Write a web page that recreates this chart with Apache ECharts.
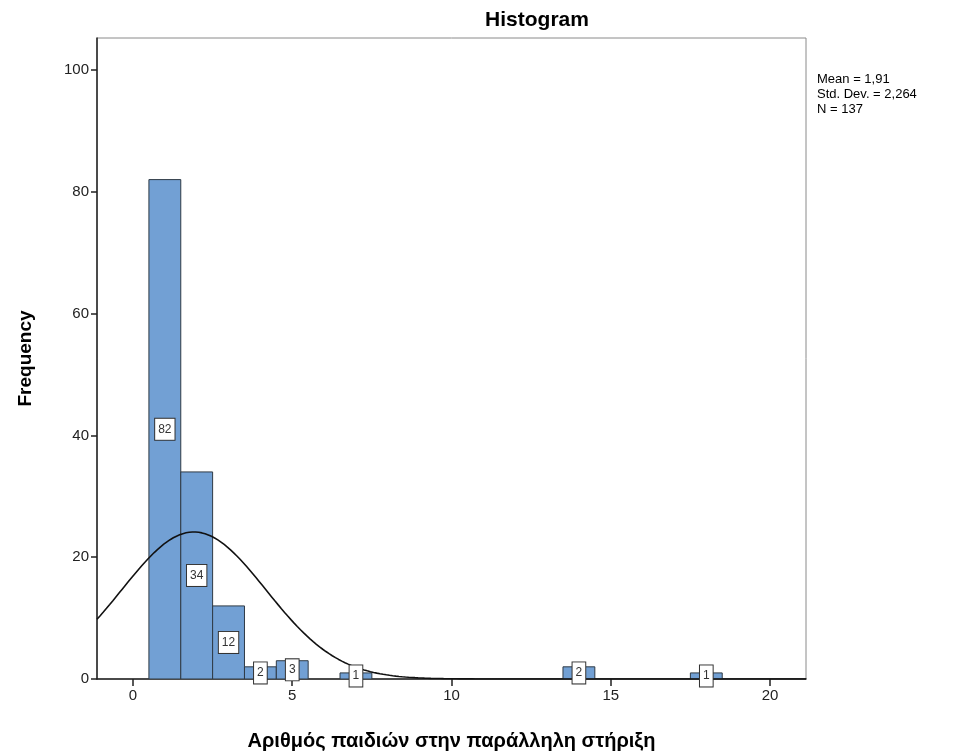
<!DOCTYPE html>
<html>
<head>
<meta charset="utf-8">
<script src="https://cdn.jsdelivr.net/npm/echarts@6/dist/echarts.min.js"></script>
<style>
  html, body { margin: 0; padding: 0; background: #fff; }
  #chart { width: 965px; height: 753px; }
</style>
</head>
<body>
<div id="chart"></div>
<script>
// Histogram bins (unit width, centred on integers) and their counts
const binCenters = [1, 2, 3, 4, 5, 7, 14, 18];
const frequencies = [82, 34, 12, 2, 3, 1, 2, 1];
const xTicks = [0, 5, 10, 15, 20];
const yTicks = [0, 20, 40, 60, 80, 100];

// Summary statistics shown beside the plot
const statMean = 1.91;
const statSd = 2.264;
const statN = 137;
const binWidth = 1;

const xMin = -1.13, xMax = 21.13;
const yMax = 105.25;

// Fitted normal curve scaled to counts
const curve = [];
for (let i = 0; i <= 446; i++) {
  const x = xMin + i * (xMax - xMin) / 446;
  const z = (x - statMean) / statSd;
  const y = statN * binWidth * Math.exp(-0.5 * z * z) / (statSd * Math.sqrt(2 * Math.PI));
  curve.push([x, y]);
}

const barData = binCenters.map((c, i) => [c, frequencies[i]]);
const FONT = 'Liberation Sans, Arial, sans-serif';

const chart = echarts.init(document.getElementById('chart'), null, { renderer: 'canvas' });
chart.setOption({
  animation: false,
  backgroundColor: '#ffffff',
  title: {
    text: 'Histogram',
    left: 532, top: 5, textAlign: 'center',
    textStyle: { fontFamily: FONT, fontSize: 21, fontWeight: 'bold', color: '#000' }
  },
  graphic: [{
    type: 'text', left: 817, top: 72,
    style: {
      text: 'Mean = ' + String(statMean).replace('.', ',') +
            '\nStd. Dev. = ' + String(statSd).replace('.', ',') +
            '\nN = ' + statN,
      font: '13px ' + FONT, fill: '#000', lineHeight: 15
    }
  }],
  grid: {
    left: 97, right: 159, top: 38, bottom: 74,
    outerBoundsMode: 'none', containLabel: false,
    show: true, borderColor: '#8a8a8a', borderWidth: 1, backgroundColor: '#fff'
  },
  xAxis: {
    type: 'value', min: xMin, max: xMax,
    name: 'Αριθμός παιδιών στην παράλληλη στήριξη',
    nameLocation: 'middle', nameGap: 52,
    nameTextStyle: { fontFamily: FONT, fontSize: 20, fontWeight: 'bold', color: '#000' },
    axisLine: { show: true, onZero: false, lineStyle: { color: '#222', width: 1.5 } },
    axisTick: { show: true, customValues: xTicks, length: 7, lineStyle: { color: '#222', width: 1.5 } },
    axisLabel: { customValues: xTicks, fontFamily: FONT, fontSize: 15, color: '#222', margin: 9 },
    splitLine: { show: false }
  },
  yAxis: {
    type: 'value', min: 0, max: yMax,
    name: 'Frequency', nameLocation: 'middle', nameGap: 62, nameRotate: 90,
    nameTextStyle: { fontFamily: FONT, fontSize: 19, fontWeight: 'bold', color: '#000' },
    axisLine: { show: true, onZero: false, lineStyle: { color: '#222', width: 1.5 } },
    axisTick: { show: true, customValues: yTicks, length: 6, lineStyle: { color: '#222', width: 1.5 } },
    axisLabel: { customValues: yTicks, fontFamily: FONT, fontSize: 15, color: '#222', margin: 8 },
    splitLine: { show: false }
  },
  series: [
    {
      type: 'custom', name: 'bars', z: 2, clip: true,
      data: barData,
      renderItem(params, api) {
        const c = api.value(0), v = api.value(1);
        const p0 = api.coord([c - binWidth / 2, 0]);
        const p1 = api.coord([c + binWidth / 2, v]);
        return {
          type: 'rect',
          shape: { x: p0[0], y: p1[1], width: p1[0] - p0[0], height: p0[1] - p1[1] },
          style: { fill: '#72a0d4', stroke: '#2f3a45', lineWidth: 1 }
        };
      }
    },
    {
      type: 'line', name: 'normal', z: 3, data: curve,
      showSymbol: false, smooth: false, clip: true,
      lineStyle: { color: '#111', width: 1.6 }
    },
    {
      type: 'custom', name: 'labels', z: 4,
      data: barData,
      renderItem(params, api) {
        const c = api.value(0), v = api.value(1);
        const m = api.coord([c, v / 2]);
        return {
          type: 'text', x: m[0], y: m[1],
          style: {
            text: String(v), align: 'center', verticalAlign: 'middle',
            font: '12px ' + FONT, fill: '#333',
            backgroundColor: '#fff', borderColor: '#333', borderWidth: 1,
            padding: [5, 3, 4, 3]
          }
        };
      }
    }
  ]
});
</script>
</body>
</html>
